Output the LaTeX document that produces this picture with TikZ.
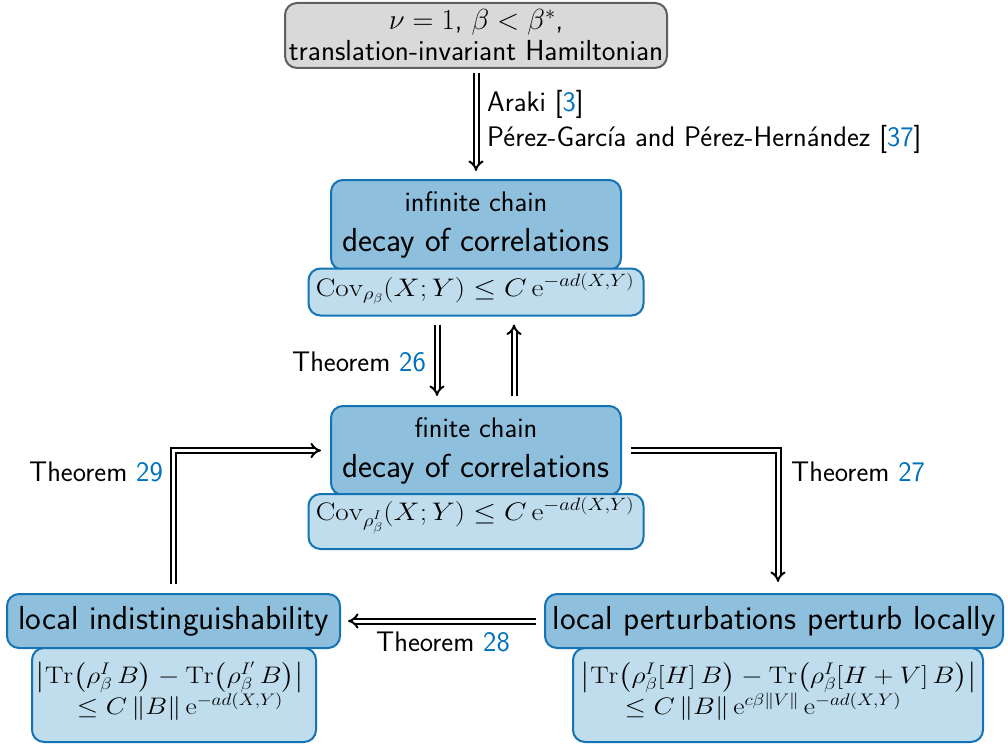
\RequirePackage{fix-cm}
\documentclass[tikz,border=0pt]{standalone}
\usepackage{amsmath}
\usepackage{graphicx}
\usepackage{fontspec}
\usetikzlibrary{arrows.meta}
\definecolor{headfill}{RGB}{142,192,222}
\definecolor{lowfill}{RGB}{191,221,237}
\definecolor{bordblue}{RGB}{20,115,180}
\definecolor{citeblue}{RGB}{0,113,188}
\definecolor{grayfill}{RGB}{217,217,217}
\definecolor{grayline}{RGB}{95,95,95}
\newcommand\fsN{\fontsize{28.3}{34}\selectfont}
\newcommand\fsT{\fontsize{29}{31}\selectfont}
\newcommand\fsL{\fontsize{33.3}{40}\selectfont}
\newcommand\fsM{\fontsize{25.4}{35}\selectfont}
\newcommand\fsF{\fontsize{23.9}{33}\selectfont}
\newcommand\cit[1]{\textcolor{citeblue}{#1}}
\newcommand\wide[1]{\scalebox{1.15}[1]{#1}}
\tikzset{
  boxbase/.style={line width=2pt, rounded corners=12pt, inner sep=0pt, align=center},
  graybox/.style={boxbase, draw=grayline, fill=grayfill, font=\sffamily\fsT},
  headbox/.style={boxbase, draw=bordblue, fill=headfill, font=\sffamily\fsL},
  lowbox/.style={boxbase, draw=bordblue, fill=lowfill},
  covtext/.style={inner sep=0pt, anchor=base, font=\fsM},
  formtext/.style={inner sep=0pt, anchor=base, font=\fsF},
  lbl/.style={font=\sffamily\fsN, inner sep=0pt},
  dbl/.style={double, double distance=3pt, line width=2pt, -{Implies[scale=1.2]}}
}
\begin{document}
\begin{tikzpicture}[x=1pt,y=-1pt]
\useasboundingbox (0,0) rectangle (1008,746);
% top
\node[graybox, minimum width=382pt, minimum height=65pt] (top) at (476,35.5)
  {$\nu=1$, $\beta<\beta^*$,\\translation-invariant Hamiltonian};
% infinite chain
\node[headbox, minimum width=290pt, minimum height=90pt] (infhead) at (476,225)
  {{\fsN infinite chain}\\decay of correlations};
\node[lowbox, minimum width=335pt, minimum height=47pt] (infcov) at (476,292) {};
\node[covtext] (infcovtext) at (475,296)
  {\wide{$\mathrm{Cov}_{\rho_\beta}(X;Y)\le C\,\mathrm{e}^{-ad(X,Y)}$}};
% finite chain
\node[headbox, minimum width=290pt, minimum height=89pt] (finhead) at (476,450.5)
  {{\fsN finite chain}\\decay of correlations};
\node[lowbox, minimum width=335pt, minimum height=55pt] (fincov) at (476,521.5) {};
\node[covtext] (fincovtext) at (475,520)
  {\wide{$\mathrm{Cov}_{\rho^I_\beta}(X;Y)\le C\,\mathrm{e}^{-ad(X,Y)}$}};
% local indistinguishability
\node[headbox, minimum width=333pt, minimum height=54pt] (lihead) at (173.5,621)
  {local indistinguishability};
\node[lowbox, minimum width=284pt, minimum height=94pt] (lilow) at (174,695) {};
\node[formtext] (lilowa) at (170,683)
  {\wide{$\bigl|\mathrm{Tr}\bigl(\rho^I_\beta\,B\bigr)-\mathrm{Tr}\bigl(\rho^{I'}_\beta\,B\bigr)\bigr|$}};
\node[formtext] (lilowb) at (180,714)
  {\wide{$\le C\,\|B\|\,\mathrm{e}^{-ad(X,Y)}$}};
% local perturbations
\node[headbox, minimum width=458pt, minimum height=54pt] (lphead) at (774,621)
  {local perturbations perturb locally};
\node[lowbox, minimum width=410pt, minimum height=94pt] (lplow) at (778,695) {};
\node[formtext] (lplowa) at (779,683)
  {\wide{$\bigl|\mathrm{Tr}\bigl(\rho^I_\beta[H]\,B\bigr)-\mathrm{Tr}\bigl(\rho^I_\beta[H+V]\,B\bigr)\bigr|$}};
\node[formtext] (lplowb) at (763,714)
  {\wide{$\le C\,\|B\|\,\mathrm{e}^{c\beta\|V\|}\,\mathrm{e}^{-ad(X,Y)}$}};
% arrows
\draw[dbl, shorten <=4pt, shorten >=8pt] (top.south) -- (infhead.north);
\draw[dbl, shorten <=8pt, shorten >=9pt] ([xshift=-39pt]infcov.south) -- ([xshift=-39pt]finhead.north);
\draw[dbl, shorten <=9pt, shorten >=8pt] ([xshift=38pt]finhead.north) -- ([xshift=38pt]infcov.south);
\draw[dbl, shorten <=9pt, shorten >=9pt] (lihead.north) |- (finhead.west);
\draw[dbl, shorten <=9pt, shorten >=11pt] (finhead.east) -| ([xshift=4pt]lphead.north);
\draw[dbl, shorten <=8pt, shorten >=7pt] (lphead.west) -- (lihead.east);
% labels
\node[lbl, anchor=west, align=left, font=\sffamily\fontsize{28.3}{35}\selectfont] (araki) at (487,122)
  {Araki [\cit{3}]\\P\'erez-Garc\'ia and P\'erez-Hern\'andez [\cit{37}]};
\node[lbl, anchor=east] (t26) at (426,362) {Theorem \cit{26}};
\node[lbl, anchor=east] (t29) at (163,472) {Theorem \cit{29}};
\node[lbl, anchor=west] (t27) at (791,472) {Theorem \cit{27}};
\node[lbl] (t28) at (443,642) {Theorem \cit{28}};
\end{tikzpicture}
\end{document}
